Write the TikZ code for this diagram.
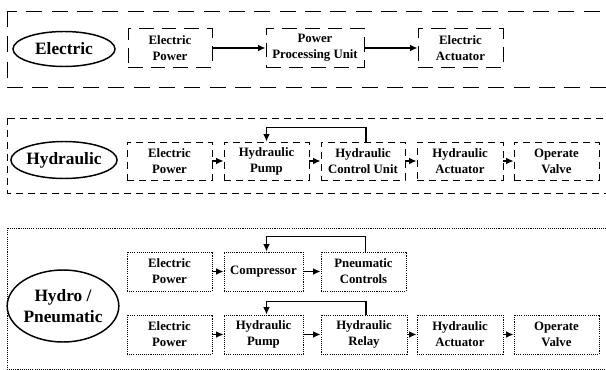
\documentclass[tikz,border=0pt]{standalone}
\usepackage{fontspec}
\setmainfont{Liberation Serif}
\usetikzlibrary{shapes.geometric,arrows.meta}
\begin{document}
\begin{tikzpicture}[x=0.75pt,y=-0.75pt,>={Latex[length=5.5pt,width=5pt]},
	blk/.style={draw,line width=0.7pt,inner sep=0pt,align=center,minimum width=63.75pt,minimum height=29.25pt,font=\fontsize{9.6}{12}\selectfont\bfseries},
	eblk/.style={blk,dash pattern=on 11pt off 6pt},
	hblk/.style={blk,dash pattern=on 5.5pt off 3.5pt},
	pblk/.style={blk,dash pattern=on 0.8pt off 0.8pt},
	tag/.style={draw,ellipse,line width=1.1pt,inner sep=0pt,align=center,font=\fontsize{13}{15.5}\selectfont\bfseries},
	flow/.style={->,line width=1pt}]
	\useasboundingbox (0,0) rectangle (606,370);
	% electric
	\draw[line width=0.65pt,dash pattern=on 12pt off 7pt] (7,11) rectangle (620,87);
	\node[tag,minimum width=76.5pt,minimum height=26.25pt] (etag) at (64,49) {Electric};
	\node[eblk,minimum width=63pt] (epow) at (170,48) {Electric\\Power};
	\node[eblk,minimum width=73.5pt] (eppu) at (315,48) {Power\\Processing Unit};
	\node[eblk] (eact) at (460.5,48) {Electric\\Actuator};
	\draw[flow] (epow) -- (eppu);
	\draw[flow] (eppu) -- (eact);
	% hydraulic
	\draw[line width=0.65pt,dash pattern=on 5.5pt off 3.5pt] (7,118) rectangle (620,193);
	\node[tag,minimum width=75.75pt,minimum height=27.75pt] (htag) at (64,160) {Hydraulic};
	\node[hblk,minimum height=28.5pt] (hpow) at (169.5,161) {Electric\\Power};
	\node[hblk,minimum height=28.5pt] (hpump) at (266.5,161) {Hydraulic\\Pump};
	\node[hblk,minimum height=28.5pt,minimum width=63pt] (hcu) at (363,161) {Hydraulic\\Control Unit};
	\node[hblk,minimum height=28.5pt,minimum width=64.5pt] (hact) at (460,161) {Hydraulic\\Actuator};
	\node[hblk,minimum height=28.5pt] (hvlv) at (556.5,161) {Operate\\Valve};
	\foreach \a/\b in {hpow/hpump,hpump/hcu,hcu/hact,hact/hvlv}
		\draw[flow] (\a) -- (\b);
	\draw[flow] ([xshift=2.25pt]hcu.north) -- ++(0,-14) -| (hpump.north);
	% hydro / pneumatic
	\draw[line width=0.7pt,dash pattern=on 0.8pt off 0.8pt] (7,228) rectangle (620,369);
	\node[tag,minimum width=75pt,minimum height=54pt] (ptag) at (63,306) {Hydro /\\Pneumatic};
	\node[pblk] (ppow) at (169.5,271.5) {Electric\\Power};
	\node[pblk,minimum width=59.25pt] (pcmp) at (263.5,271.5) {Compressor};
	\node[pblk] (pctl) at (363.5,271.5) {Pneumatic\\Controls};
	\node[pblk] (rpow) at (169.5,334.5) {Electric\\Power};
	\node[pblk,minimum width=59.25pt] (rpump) at (263.5,334.5) {Hydraulic\\Pump};
	\node[pblk,minimum width=64.5pt] (rrly) at (364,334.5) {Hydraulic\\Relay};
	\node[pblk,minimum width=64.5pt] (ract) at (460,334.5) {Hydraulic\\Actuator};
	\node[pblk] (rvlv) at (556.5,334.5) {Operate\\Valve};
	\foreach \a/\b in {ppow/pcmp,pcmp/pctl,rpow/rpump,rpump/rrly,rrly/ract,ract/rvlv}
		\draw[flow] (\a) -- (\b);
	\draw[flow] ([xshift=1.5pt]pctl.north) -- ++(0,-15) -| ([xshift=2.25pt]pcmp.north);
	\draw[flow] ([xshift=1.5pt]rrly.north) -- ++(0,-13) -| ([xshift=2.25pt]rpump.north);
\end{tikzpicture}
\end{document}
